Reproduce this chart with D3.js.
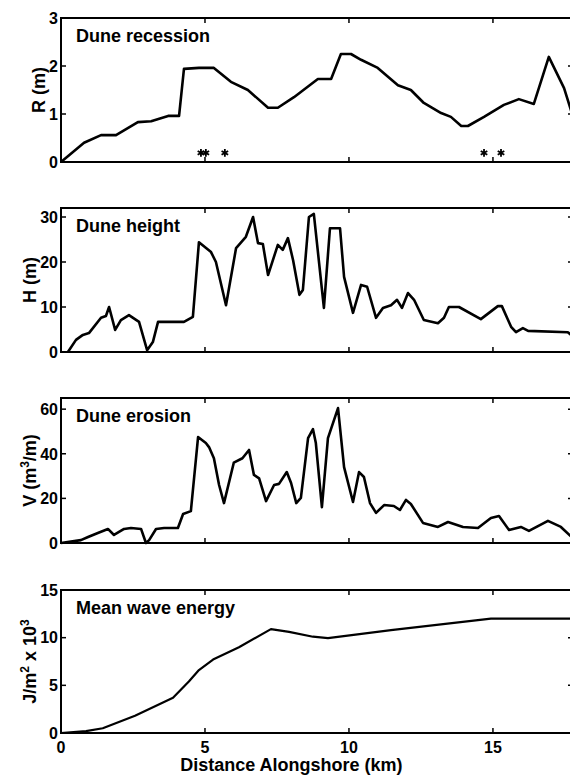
<!DOCTYPE html>
<html><head><meta charset="utf-8">
<script src="https://cdn.jsdelivr.net/npm/d3@7/dist/d3.min.js"></script>
<style>body{margin:0;background:#fff}svg{display:block}text{font-family:"Liberation Sans",Arial,sans-serif;font-weight:bold;fill:#000}</style>
</head><body><svg id="c" width="570" height="776"></svg>
<script>
// ---- data (km alongshore) ----
const recessionKm = [0,0.8,1.39,1.91,2.67,3.13,3.72,4.10,4.27,4.79,5.31,5.90,6.49,7.19,7.53,8.09,8.92,9.38,9.72,10.07,10.42,11.0,11.7,12.15,12.6,13.2,13.54,13.9,14.13,14.69,15.38,15.9,16.42,16.94,17.47,17.75];
const recessionR  = [0,0.40,0.56,0.56,0.83,0.85,0.96,0.96,1.94,1.96,1.96,1.67,1.50,1.13,1.13,1.35,1.73,1.73,2.25,2.25,2.13,1.96,1.60,1.50,1.23,1.02,0.94,0.75,0.75,0.94,1.19,1.31,1.21,2.19,1.54,1.0];
const starKm = [4.86,5.03,5.69,14.69,15.28];
const starR = 0.19;

const heightKm = [0.24,0.52,0.76,0.97,1.39,1.56,1.67,1.88,2.08,2.36,2.71,2.99,3.19,3.37,4.27,4.58,4.79,5.21,5.38,5.73,6.08,6.42,6.67,6.84,7.01,7.19,7.53,7.7,7.88,8.06,8.28,8.40,8.61,8.78,9.13,9.34,9.69,9.83,10.14,10.42,10.63,10.94,11.18,11.46,11.67,11.84,12.05,12.26,12.6,13.09,13.3,13.47,13.82,14.58,15.17,15.31,15.63,15.8,16.04,16.22,17.6,17.75];
const heightH  = [0,2.7,3.8,4.2,7.6,8.0,10,4.9,7.1,8.2,6.7,0.4,2.2,6.7,6.7,7.8,24.4,22.2,20,10.4,23.1,25.6,30,24.2,24,17.1,23.8,22.7,25.3,20.4,12.7,13.8,30,30.7,9.8,27.5,27.5,16.7,8.7,14.9,14.5,7.6,9.8,10.4,11.6,9.8,13.1,11.6,7.1,6.4,7.6,10,10,7.3,10.2,10.2,5.6,4.4,5.3,4.7,4.4,3.6];

const erosionKm = [0,0.69,0.94,1.28,1.63,1.84,2.19,2.43,2.78,2.95,3.06,3.3,3.58,4.06,4.24,4.51,4.76,5.03,5.14,5.31,5.49,5.66,6.0,6.3,6.53,6.7,6.88,7.12,7.4,7.57,7.84,7.99,8.17,8.33,8.58,8.75,8.85,9.06,9.27,9.62,9.83,10.14,10.35,10.52,10.73,10.94,11.22,11.56,11.77,11.98,12.15,12.57,13.09,13.44,13.96,14.48,14.93,15.21,15.56,15.97,16.25,16.91,17.36,17.75];
const erosionV  = [0,1.3,2.7,4.5,6.3,3.6,6.3,6.7,6.3,0,1.3,6.3,6.7,6.7,13,14.3,47.5,44.8,43,38,26,17.9,36,38,41.7,30.5,29,18.8,26,26.5,31.8,26.9,17.9,20.2,47,51,44.8,16.1,47,60.5,34,18.4,31.8,29.6,17.9,13.5,17,16.6,14.8,19.3,17.5,9,7.2,9.4,7.2,6.7,11.2,12.1,5.8,7.2,5.4,9.9,7.2,2.5];

const energyKm = [0,0.87,1.45,2.57,3.89,4.44,4.79,5.28,6.18,7.29,7.92,8.75,9.27,11.46,14.93,17.75];
const energyE  = [0,0.2,0.5,1.8,3.7,5.4,6.6,7.7,9.0,10.9,10.6,10.1,9.95,10.8,12.0,12.0];

const xTicks = [0,5,10,15];
const panels = [
  {title:"Dune recession", xs:recessionKm, ys:recessionR, domain:[0,3], ticks:[0,1,2,3], label:[["R (m)"]]},
  {title:"Dune height", xs:heightKm, ys:heightH, domain:[0,32], ticks:[0,10,20,30], label:[["H (m)"]]},
  {title:"Dune erosion", xs:erosionKm, ys:erosionV, domain:[0,65], ticks:[0,20,40,60], label:[["V (m"],["3","sup"],["/m)"]]},
  {title:"Mean wave energy", xs:energyKm, ys:energyE, domain:[0,15], ticks:[0,5,10,15], label:[["J/m"],["2","sup"],[" x 10"],["3","sup"]]}
];
const tops = [18, 208, 398, 590], bottoms = [162, 352, 543, 733];
const xLabel = "Distance Alongshore (km)";

// ---- drawing ----
const svg = d3.select("#c");
const x = d3.scaleLinear().domain([0, 17.78]).range([61, 573]);
const L = 61, R = 573;

panels.forEach((p, i) => {
  const y = d3.scaleLinear().domain(p.domain).range([bottoms[i], tops[i]]);
  const g = svg.append("g");
  g.append("rect").attr("x", L).attr("y", tops[i]).attr("width", R - L).attr("height", bottoms[i] - tops[i])
    .attr("fill", "none").attr("stroke", "#000").attr("stroke-width", 2);
  const tk = 5;
  xTicks.forEach(t => {
    g.append("line").attr("x1", x(t)).attr("x2", x(t)).attr("y1", bottoms[i]).attr("y2", bottoms[i] - tk).attr("stroke", "#000").attr("stroke-width", 1.5);
    g.append("line").attr("x1", x(t)).attr("x2", x(t)).attr("y1", tops[i]).attr("y2", tops[i] + tk).attr("stroke", "#000").attr("stroke-width", 1.5);
  });
  p.ticks.forEach(t => {
    g.append("line").attr("x1", L).attr("x2", L + tk).attr("y1", y(t)).attr("y2", y(t)).attr("stroke", "#000").attr("stroke-width", 1.5);
    g.append("line").attr("x1", R).attr("x2", R - tk).attr("y1", y(t)).attr("y2", y(t)).attr("stroke", "#000").attr("stroke-width", 1.5);
  });
  const labs = g.selectAll("text.yt").data(p.ticks).enter().append("text").attr("class", "yt")
    .attr("x", L - 3).attr("y", d => y(d)).attr("dy", "0.36em").attr("text-anchor", "end")
    .attr("font-size", 16).text(d => d);
  let minX = Infinity;
  labs.each(function(){ minX = Math.min(minX, this.getBBox().x); });
  const cy = (tops[i] + bottoms[i]) / 2;
  const lt = g.append("text").attr("font-size", 18).attr("text-anchor", "middle")
    .attr("transform", `translate(${minX - 4},${cy}) rotate(-90)`);
  p.label.forEach(([s, k]) => {
    const ts = lt.append("tspan").text(s);
    if (k === "sup") ts.attr("font-size", 12).attr("dy", "-0.6em");
    else if (lt.selectAll("tspan").size() > 1) ts.attr("dy", "0.4em");
  });
  g.append("text").attr("x", L + 15).attr("y", tops[i] + 24).attr("font-size", 18).text(p.title);
  const line = d3.line().x((d, j) => x(p.xs[j])).y(d => y(d));
  g.append("path").datum(p.ys).attr("d", line).attr("fill", "none").attr("stroke", "#000")
    .attr("stroke-width", i === 3 ? 2.2 : 2.6).attr("stroke-linejoin", "round");
  if (i === 0) {
    const sym = d3.symbol().type(d3.symbolAsterisk).size(40);
    g.selectAll("path.star").data(starKm).enter().append("path").attr("class", "star")
      .attr("d", sym).attr("transform", d => `translate(${x(d)},${y(starR)})`)
      .attr("fill", "none").attr("stroke", "#000").attr("stroke-width", 1.8);
  }
});
svg.selectAll("text.xt").data(xTicks).enter().append("text").attr("class", "xt")
  .attr("x", d => x(d)).attr("y", 753).attr("text-anchor", "middle").attr("font-size", 16).text(d => d);
svg.append("text").attr("x", x(8)).attr("y", 771).attr("text-anchor", "middle").attr("font-size", 18).text(xLabel);
</script></body></html>
